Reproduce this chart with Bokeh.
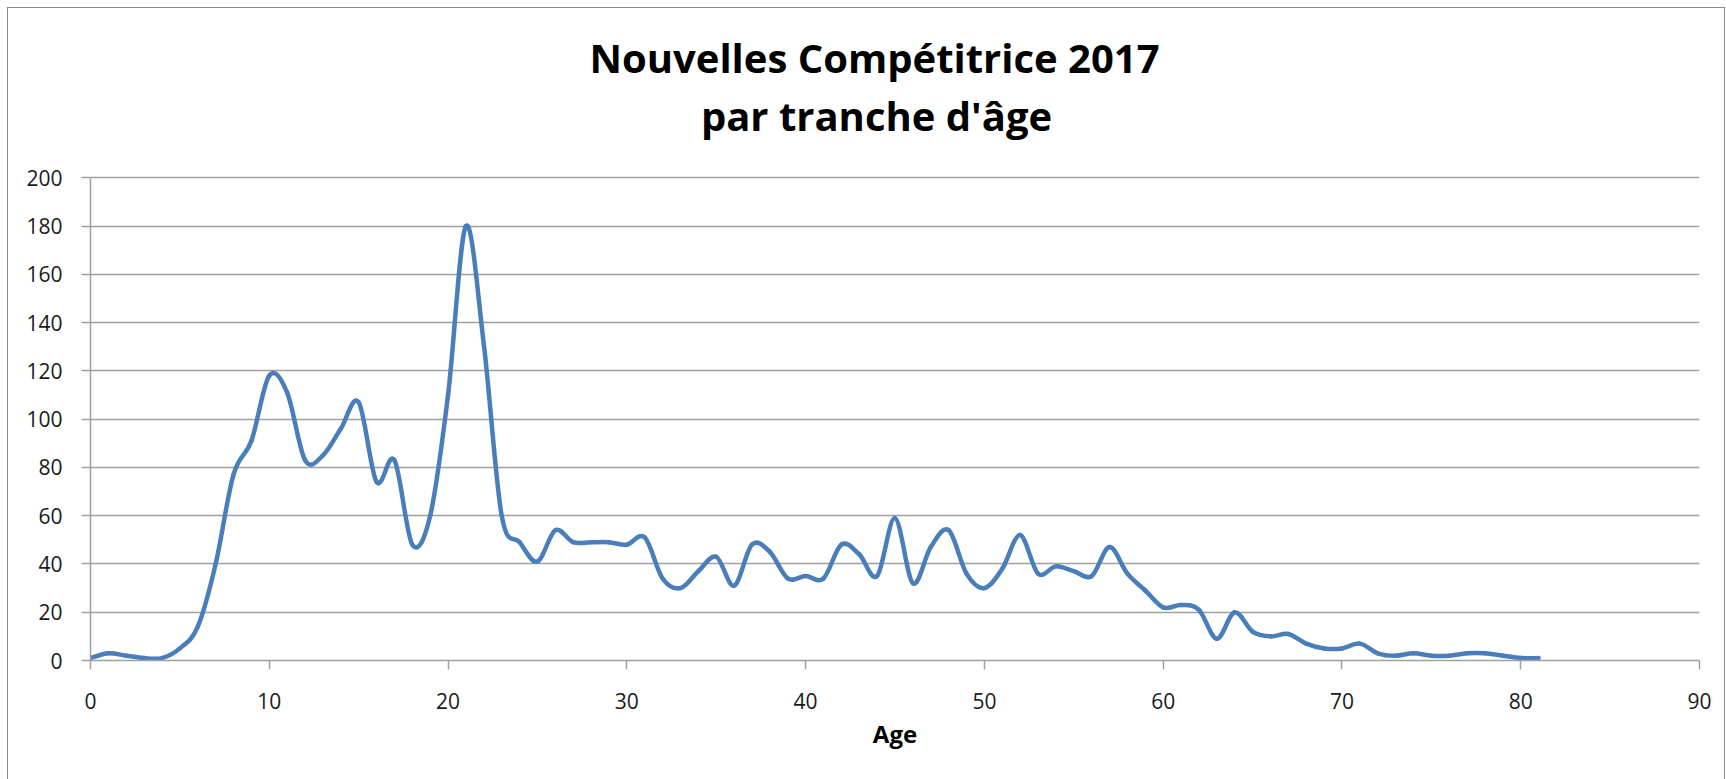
from bokeh.plotting import figure
from bokeh.models import Label, FixedTicker, ColumnDataSource, Range1d
from bokeh.embed import file_html
from bokeh.resources import INLINE

# ---- data ----
ages = list(range(0, 82))
counts = [1, 3, 2, 1, 1, 5, 14, 40, 77, 91,
          118, 111, 83, 85, 96, 107, 74, 83, 48, 60,
          110, 180, 131, 60, 49, 41, 54, 49, 49, 49,
          48, 51, 34, 30, 37, 43, 31, 48, 45, 34,
          35, 34, 48, 44, 35, 59, 32, 47, 54, 36,
          30, 38, 52, 36, 39, 37, 35, 47, 36, 29,
          22, 23, 21, 9, 20, 12, 10, 11, 7, 5,
          5, 7, 3, 2, 3, 2, 2, 3, 3, 2,
          1, 1]
x_ticks = list(range(0, 91, 10))
y_ticks = list(range(0, 201, 20))
title_line1 = "Nouvelles Compétitrice 2017"
title_line2 = "par tranche d'âge"
x_label = "Age"

# ---- layout (pixels) ----
FIG_W, FIG_H = 1716, 771
B_LEFT, B_RIGHT, B_TOP, B_BOTTOM = 82, 25, 10, 119
AXIS_TOP_PX = 169.3            # distance from figure top to the "200" gridline
frame_h = FIG_H - B_TOP - B_BOTTOM
px_per_unit_y = (frame_h - (AXIS_TOP_PX - B_TOP)) / 200.0
y_end = frame_h / px_per_unit_y
frame_w = FIG_W - B_LEFT - B_RIGHT
px_per_unit_x = frame_w / 90.0

def title_pos(center_px_x, baseline_px_y):
    # figure px -> data coords in the extended frame
    x = (center_px_x - B_LEFT) / px_per_unit_x
    y = (FIG_H - B_BOTTOM - baseline_px_y) / px_per_unit_y
    return x, y

# ---- smoothed (Catmull-Rom style Bezier, like Excel's smoothed line) ----
n = len(ages)
def pt(i):
    i = max(0, min(n - 1, i))
    return ages[i], counts[i]

seg = dict(x0=[], y0=[], x1=[], y1=[], cx0=[], cy0=[], cx1=[], cy1=[])
for i in range(n - 1):
    xa, ya = pt(i - 1)
    xb, yb = pt(i)
    xc, yc = pt(i + 1)
    xd, yd = pt(i + 2)
    seg["x0"].append(xb); seg["y0"].append(yb)
    seg["x1"].append(xc); seg["y1"].append(yc)
    seg["cx0"].append(xb + (xc - xa) / 6.0); seg["cy0"].append(yb + (yc - ya) / 6.0)
    seg["cx1"].append(xc - (xd - xb) / 6.0); seg["cy1"].append(yc - (yd - yb) / 6.0)
src = ColumnDataSource(seg)

GRAY = "#a0a0a0"
FONT = "Open Sans"

p = figure(width=FIG_W, height=FIG_H, x_range=Range1d(0, 90),
           y_range=Range1d(0, y_end),
           output_backend="svg", toolbar_location=None, title=None,
           min_border_left=B_LEFT, min_border_right=B_RIGHT,
           min_border_top=B_TOP, min_border_bottom=B_BOTTOM,
           margin=(8, 0, 0, 8),
           styles={"outline": "1.5px solid #8c8c8c"})
p.background_fill_color = "white"
p.border_fill_color = "white"
p.outline_line_color = None

p.bezier(x0="x0", y0="y0", x1="x1", y1="y1", cx0="cx0", cy0="cy0",
         cx1="cx1", cy1="cy1", source=src, line_color="#4a7ebb",
         line_width=4.5, line_cap="round")

x1, y1 = title_pos(866, 49)
x2, y2 = title_pos(868, 107)
for txt, tx, ty in ((title_line1, x1, y1), (title_line2, x2, y2)):
    p.add_layout(Label(text=txt, x=tx, y=ty, text_align="center",
                       text_baseline="alphabetic", text_font=FONT,
                       text_font_size="40px", text_font_style="bold",
                       text_color="black"))

for ax in (p.xaxis[0], p.yaxis[0]):
    ax.axis_line_color = GRAY
    ax.axis_line_width = 1.5
    ax.major_tick_line_color = GRAY
    ax.major_tick_line_width = 1.5
    ax.major_tick_in = 0
    ax.major_tick_out = 9
    ax.minor_tick_line_color = None
    ax.major_label_text_font = FONT
    ax.major_label_text_font_size = "21px"
    ax.major_label_text_color = "#1a1a1a"

p.yaxis.bounds = (0, 200)
p.xaxis.ticker = FixedTicker(ticks=x_ticks)
p.yaxis.ticker = FixedTicker(ticks=y_ticks)
p.xaxis.major_label_standoff = 23
p.yaxis.major_label_standoff = 19
p.xaxis.axis_label = x_label
p.xaxis.axis_label_text_font = FONT
p.xaxis.axis_label_text_font_size = "24px"
p.xaxis.axis_label_text_font_style = "bold"
p.xaxis.axis_label_text_color = "black"
p.xaxis.axis_label_standoff = 5

p.xgrid.grid_line_color = None
p.ygrid.grid_line_color = GRAY
p.ygrid.grid_line_width = 1.5

open("out.html", "w").write(file_html(p, INLINE))
